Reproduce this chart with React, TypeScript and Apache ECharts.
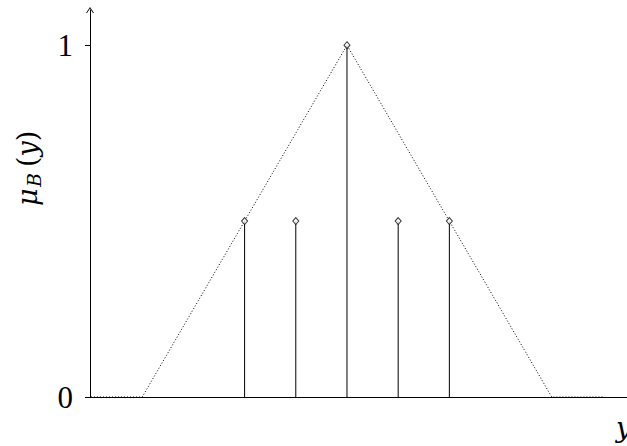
import React, { useEffect, useRef } from 'react';
import * as echarts from 'echarts';

// Triangular membership function (dotted outline)
const triangleX = [-1, 0, 4, 8, 9];
const triangleY = [0, 0, 1, 0, 0];

// Discrete fuzzy set samples (stems with diamond markers)
const stemX = [2, 3, 4, 5, 6];
const stemY = [0.5, 0.5, 1, 0.5, 0.5];

// Y-axis tick values
const yTicks = [0, 1];

const SERIF = "'Liberation Serif', 'Times New Roman', Times, serif";
const MATH = "'DejaVu Serif', serif";

export default function App() {
  const ref = useRef<HTMLDivElement>(null);

  useEffect(() => {
    if (!ref.current) return;
    const chart = echarts.init(ref.current, null, { renderer: 'svg' });

    chart.setOption({
      animation: false,
      backgroundColor: '#fff',
      grid: { left: 90, right: 0, top: 10, bottom: 49 },
      xAxis: {
        type: 'value',
        min: -1.02,
        max: 9.47,
        axisLine: { show: true, onZero: true, lineStyle: { color: '#000', width: 1 } },
        axisTick: { show: false },
        axisLabel: { show: false },
        splitLine: { show: false },
      },
      yAxis: {
        type: 'value',
        min: 0,
        max: 1.1,
        axisLine: {
          show: true,
          onZero: false,
          lineStyle: { color: '#000', width: 1 },
          symbol: ['none', 'path://M0,6 L4,0 L8,6 L7,6 L4,1.6 L1,6 Z'],
          symbolSize: [8, 6],
        },
        axisTick: {
          show: true,
          length: 5,
          customValues: yTicks,
          lineStyle: { color: '#000', width: 1 },
        },
        axisLabel: {
          customValues: yTicks,
          color: '#000',
          fontFamily: SERIF,
          fontSize: 31,
          margin: 17,
        },
        splitLine: { show: false },
      },
      graphic: [
        {
          type: 'group',
          x: 27,
          y: 206,
          rotation: Math.PI / 2,
          children: [
            {
              type: 'text',
              x: 0,
              y: 0,
              style: {
                text: 'μ',
                fontFamily: MATH,
                fontStyle: 'italic',
                fontSize: 27,
                fill: '#000',
                align: 'left',
                verticalAlign: 'middle',
              },
            },
            {
              type: 'text',
              x: 19,
              y: 7,
              style: {
                text: 'B',
                fontFamily: MATH,
                fontStyle: 'italic',
                fontSize: 19,
                fill: '#000',
                align: 'left',
                verticalAlign: 'middle',
              },
            },
            {
              type: 'text',
              x: 39,
              y: 0,
              style: {
                text: '{p|(}{v|y}{p|)}',
                align: 'left',
                verticalAlign: 'middle',
                rich: {
                  p: { fontFamily: MATH, fontSize: 27, fill: '#000' },
                  v: { fontFamily: MATH, fontStyle: 'italic', fontSize: 27, fill: '#000' },
                },
              },
            },
          ],
        },
        {
          type: 'text',
          left: 616,
          top: 414,
          style: {
            text: 'y',
            fontFamily: MATH,
            fontStyle: 'italic',
            fontSize: 27,
            fill: '#000',
          },
        },
      ],
      series: [
        {
          type: 'line',
          data: triangleX.map((x, i) => [x, triangleY[i]]),
          symbol: 'none',
          lineStyle: { color: '#000', width: 1, type: [1, 2] },
          z: 2,
        },
        {
          type: 'custom',
          data: stemX.map((x, i) => [x, stemY[i]]),
          renderItem: (_params: any, api: any) => {
            const top = api.coord([api.value(0), api.value(1)]);
            const base = api.coord([api.value(0), 0]);
            return {
              type: 'line',
              shape: { x1: base[0], y1: base[1], x2: top[0], y2: top[1] },
              style: { stroke: '#000', lineWidth: 1 },
            };
          },
          z: 3,
        },
        {
          type: 'scatter',
          data: stemX.map((x, i) => [x, stemY[i]]),
          symbol: 'diamond',
          symbolSize: [6, 7],
          itemStyle: { color: '#fff', borderColor: '#000', borderWidth: 1 },
          z: 4,
        },
      ],
    });

    return () => chart.dispose();
  }, []);

  return (
    <div
      ref={ref}
      style={{ position: 'absolute', left: 0, top: 0, width: 627, height: 446 }}
    />
  );
}
